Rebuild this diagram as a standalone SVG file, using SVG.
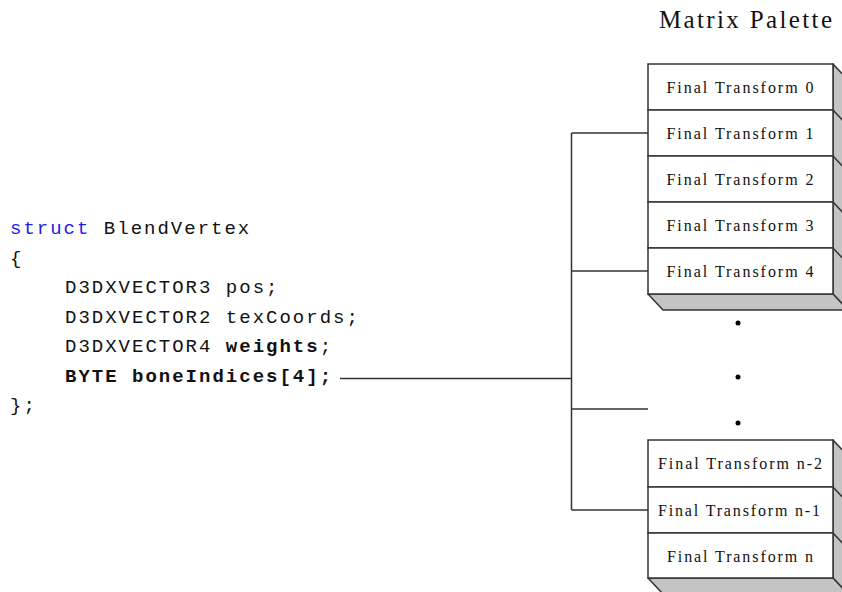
<svg xmlns="http://www.w3.org/2000/svg" width="842" height="592" viewBox="0 0 842 592">
<style>
.code{font-family:"Liberation Mono","Courier New",monospace;font-size:19px;letter-spacing:2px;fill:#111}
.kw{fill:#2020e8}
.b{font-weight:bold}
.title{font-family:"Liberation Serif","Times New Roman",serif;font-size:25px;fill:#111}
.lbl{font-family:"Liberation Serif","Times New Roman",serif;font-size:16px;fill:#111;text-anchor:middle}
.box{fill:#fff;stroke:#333;stroke-width:1.5}
.side{fill:#c4c4c4;stroke:#333;stroke-width:1.5;stroke-linejoin:round}
.conn{fill:none;stroke:#333;stroke-width:1.5}
.dot{fill:#000}
</style>
<rect width="842" height="592" fill="#fff"/>
<g id="code">
<text class="code" x="10" y="234"><tspan class="kw">struct</tspan> BlendVertex</text>
<text class="code" x="10" y="263.5">{</text>
<text class="code" x="65" y="293">D3DXVECTOR3 pos;</text>
<text class="code" x="65" y="322.5">D3DXVECTOR2 texCoords;</text>
<text class="code" x="65" y="352">D3DXVECTOR4 <tspan class="b">weights</tspan>;</text>
<text class="code b" x="65" y="381.5">BYTE boneIndices[4];</text>
<text class="code" x="10" y="411">};</text>
</g>
<g id="title">
<text class="title" x="659" y="28" textLength="173" lengthAdjust="spacing">Matrix Palette</text>
</g>
<g id="palette-top">
<polygon class="side" points="833,64 848,80 848,310 833,294"/>
<polygon class="side" points="648,294 663,310 848,310 833,294"/>
<path class="conn" d="M833,110 L848,126 M833,156 L848,172 M833,202 L848,218 M833,248 L848,264"/>
<g id="ft0"><rect class="box" x="648" y="64" width="185" height="46"/><text class="lbl" x="740" y="93" textLength="147" lengthAdjust="spacing">Final Transform 0</text></g>
<g id="ft1"><rect class="box" x="648" y="110" width="185" height="46"/><text class="lbl" x="740" y="139" textLength="147" lengthAdjust="spacing">Final Transform 1</text></g>
<g id="ft2"><rect class="box" x="648" y="156" width="185" height="46"/><text class="lbl" x="740" y="185" textLength="147" lengthAdjust="spacing">Final Transform 2</text></g>
<g id="ft3"><rect class="box" x="648" y="202" width="185" height="46"/><text class="lbl" x="740" y="231" textLength="147" lengthAdjust="spacing">Final Transform 3</text></g>
<g id="ft4"><rect class="box" x="648" y="248" width="185" height="46"/><text class="lbl" x="740" y="277" textLength="147" lengthAdjust="spacing">Final Transform 4</text></g>
</g>
<g id="ellipsis">
<circle class="dot" cx="738" cy="323" r="2.5"/>
<circle class="dot" cx="738" cy="377" r="2.5"/>
<circle class="dot" cx="738" cy="423" r="2.5"/>
</g>
<g id="palette-bottom">
<polygon class="side" points="833,440 848,456 848,594 833,578"/>
<polygon class="side" points="648,578 663,594 848,594 833,578"/>
<path class="conn" d="M833,487 L848,503 M833,533 L848,549"/>
<g id="ftn2"><rect class="box" x="648" y="440" width="185" height="47"/><text class="lbl" x="740" y="469" textLength="164" lengthAdjust="spacing">Final Transform n-2</text></g>
<g id="ftn1"><rect class="box" x="648" y="487" width="185" height="46"/><text class="lbl" x="739" y="516" textLength="162" lengthAdjust="spacing">Final Transform n-1</text></g>
<g id="ftn"><rect class="box" x="648" y="533" width="185" height="45"/><text class="lbl" x="740" y="562" textLength="146" lengthAdjust="spacing">Final Transform n</text></g>
</g>
<g id="connectors">
<path class="conn" d="M340,378.5 H571.5"/>
<path class="conn" d="M571.5,133 V510"/>
<path class="conn" d="M571.5,133 H648"/>
<path class="conn" d="M571.5,271 H648"/>
<path class="conn" d="M571.5,409 H648"/>
<path class="conn" d="M571.5,510 H648"/>
</g>
</svg>
